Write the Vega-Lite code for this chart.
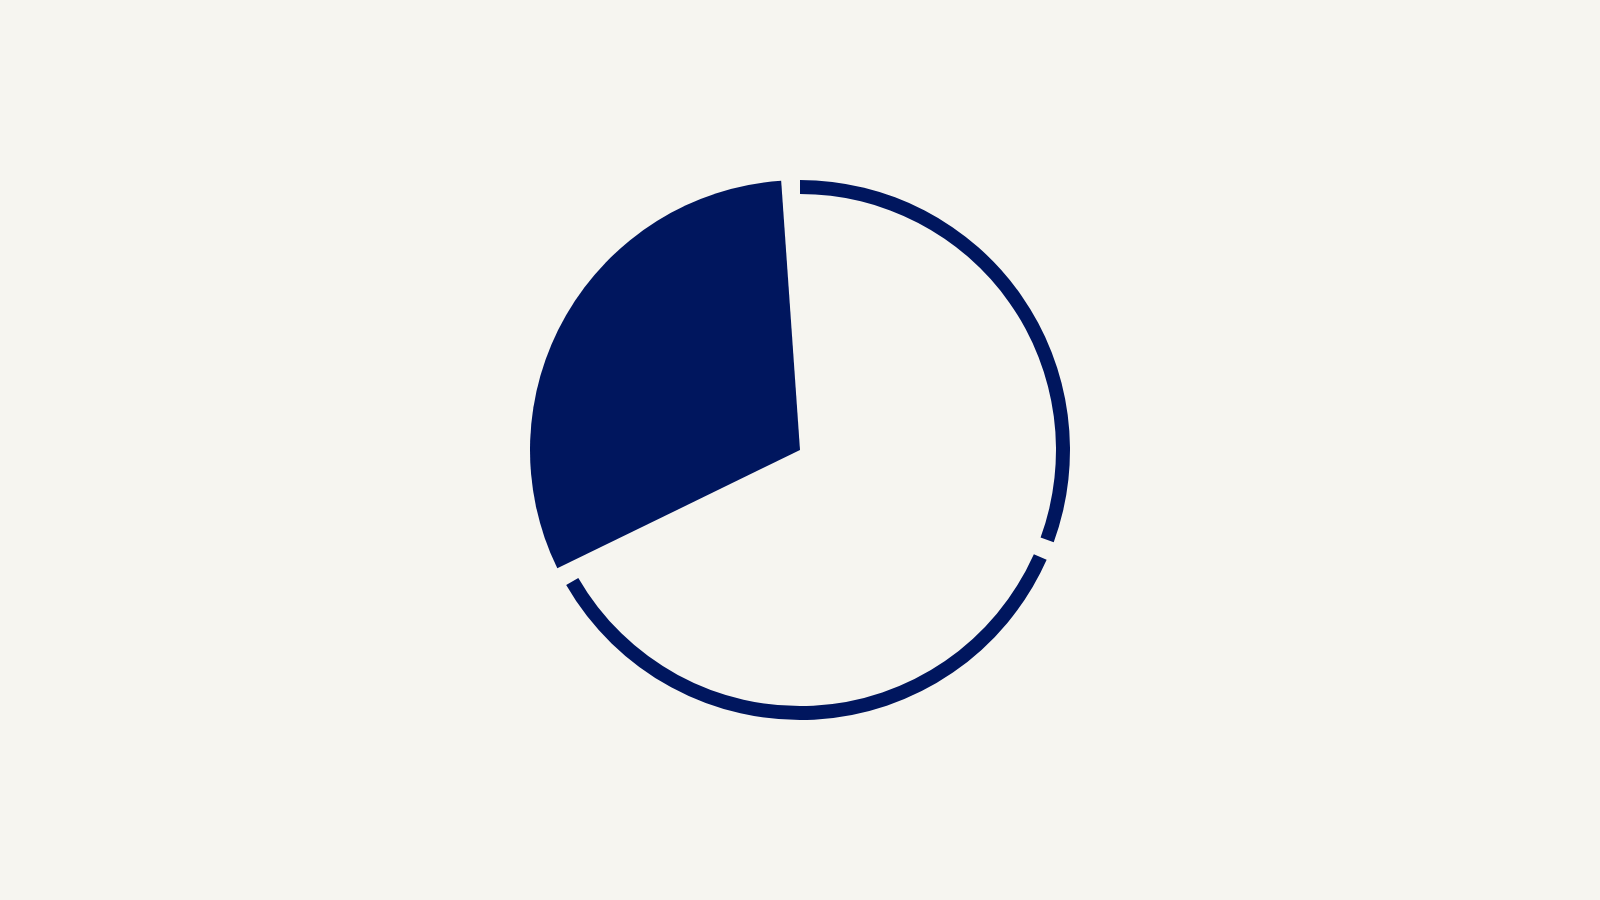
{
  "$schema": "https://vega.github.io/schema/vega-lite/v6.json",
  "width": 1600,
  "height": 900,
  "autosize": {"type": "fit", "contains": "padding"},
  "padding": 0,
  "background": "#F6F5F0",
  "config": {"view": {"stroke": null}},
  "data": {
    "values": [
      {"segment": "A", "start": 0, "end": 110, "style": "ring"},
      {"segment": "B", "start": 114, "end": 240, "style": "ring"},
      {"segment": "C", "start": 244, "end": 356, "style": "wedge"}
    ]
  },
  "layer": [
    {
      "transform": [{"filter": "datum.style == 'ring'"}],
      "mark": {"type": "arc", "radius": 270, "radius2": 256, "color": "#00165E"},
      "encoding": {
        "theta": {"field": "start", "type": "quantitative", "scale": {"domain": [0, 360]}},
        "theta2": {"field": "end"}
      }
    },
    {
      "transform": [{"filter": "datum.style == 'wedge'"}],
      "mark": {"type": "arc", "radius": 270, "radius2": 0, "color": "#00165E"},
      "encoding": {
        "theta": {"field": "start", "type": "quantitative", "scale": {"domain": [0, 360]}},
        "theta2": {"field": "end"}
      }
    }
  ]
}
